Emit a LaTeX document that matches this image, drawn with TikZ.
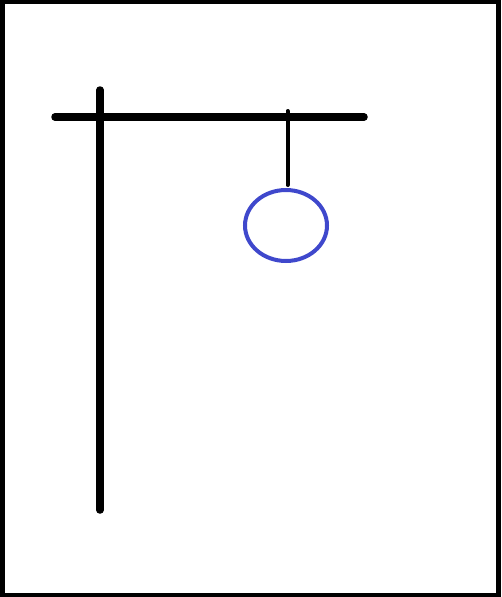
\documentclass[tikz,border=0pt]{standalone}
\usetikzlibrary{shapes.geometric}
\definecolor{headblue}{HTML}{3F48CC}
\begin{document}
\begin{tikzpicture}[x=1pt,y=-1pt,
  frame/.style={draw=black,line width=4.5pt},
  beam/.style={draw=black,line width=7.5pt,line cap=round},
  rope/.style={draw=black,line width=4pt,line cap=round},
  head/.style={draw=headblue,line width=4pt}]
\useasboundingbox (0,0) rectangle (501,597);
\draw[frame] (2.5,2.2) rectangle (498.5,594.8);
\coordinate (poletop) at (100,90);
\coordinate (polebot) at (100,510);
\coordinate (barL) at (55,117);
\coordinate (barR) at (364,117);
\coordinate (ropetop) at (287.5,111);
\coordinate (ropebot) at (287.5,185);
\draw[beam] (poletop) -- (polebot);
\draw[beam] (barL) -- (barR);
\draw[rope] (ropetop) -- (ropebot);
\node[head,ellipse,minimum width=82pt,minimum height=71pt,inner sep=0pt,outer sep=0pt] (headnode) at (286,225.5) {};
\end{tikzpicture}
\end{document}
